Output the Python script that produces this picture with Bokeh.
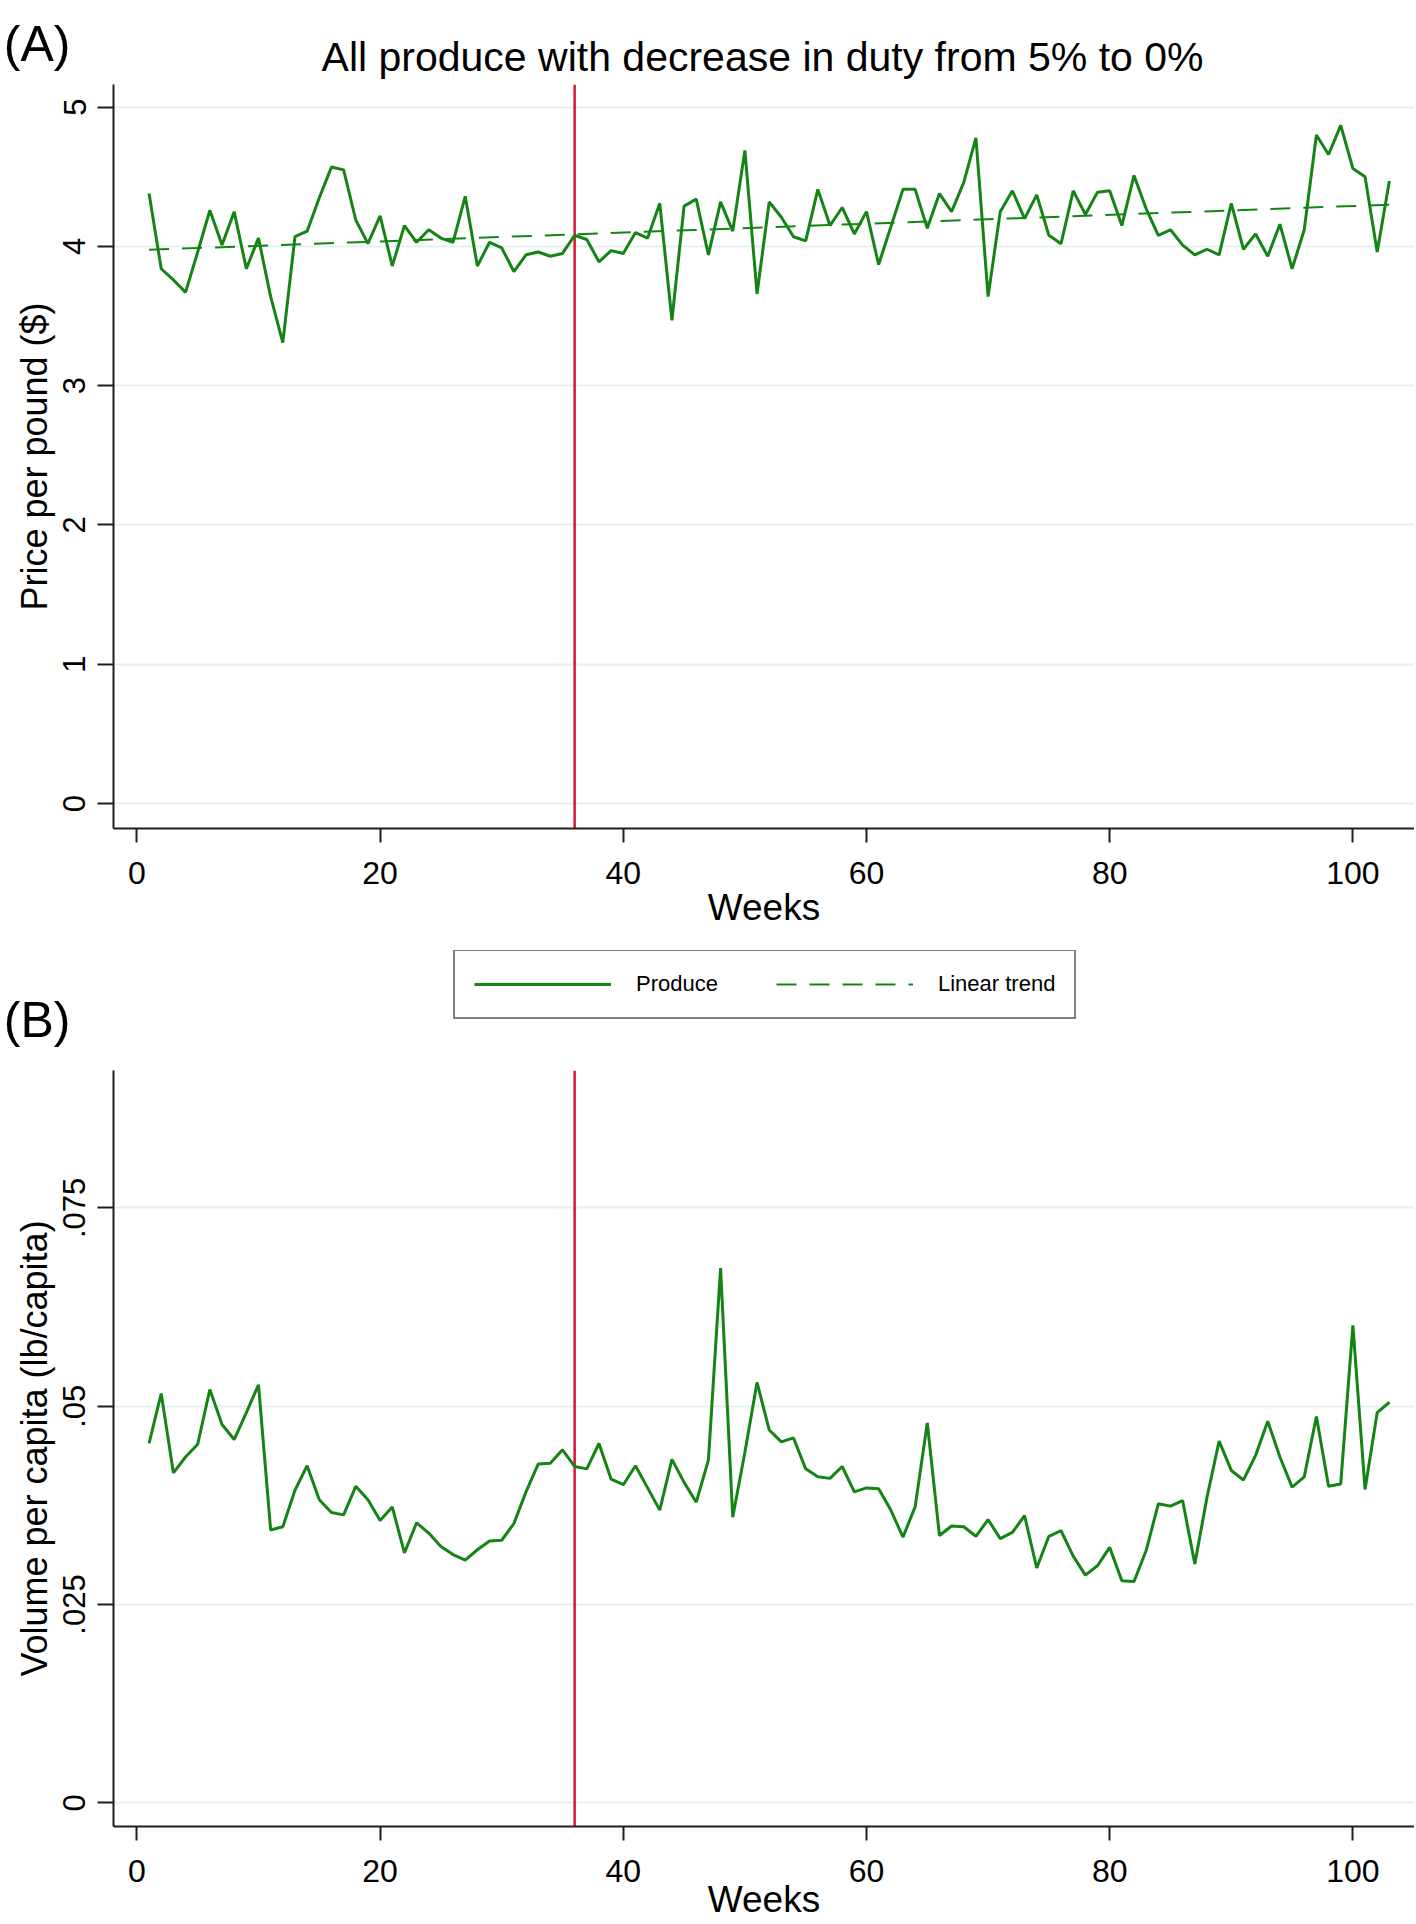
from bokeh.plotting import figure
from bokeh.models import Span, Label, Legend, LegendItem, FixedTicker, Range1d
from bokeh.layouts import column
from bokeh.embed import file_html
from bokeh.resources import INLINE

# ---------------- data ----------------
weeks = list(range(1, 104))

price = [4.38, 3.84, 3.76, 3.67, 3.96, 4.26, 4.01, 4.25, 3.84, 4.06,
         3.64, 3.31, 4.07, 4.11, 4.35, 4.57, 4.55, 4.19, 4.02, 4.22,
         3.86, 4.15, 4.03, 4.12, 4.06, 4.03, 4.36, 3.86, 4.03, 3.99,
         3.82, 3.94, 3.96, 3.93, 3.95, 4.08, 4.05, 3.89, 3.97, 3.95,
         4.10, 4.06, 4.31, 3.47, 4.29, 4.34, 3.94, 4.32, 4.11, 4.69,
         3.66, 4.32, 4.21, 4.07, 4.04, 4.41, 4.15, 4.28, 4.09, 4.25,
         3.87, 4.14, 4.41, 4.41, 4.13, 4.38, 4.25, 4.46, 4.78, 3.64,
         4.25, 4.40, 4.20, 4.37, 4.08, 4.02, 4.40, 4.23, 4.39, 4.40,
         4.15, 4.51, 4.27, 4.08, 4.12, 4.01, 3.94, 3.98, 3.94, 4.31,
         3.98, 4.09, 3.93, 4.16, 3.84, 4.12, 4.80, 4.66, 4.87, 4.56,
         4.50, 3.96, 4.47]

trend_weeks = [1, 103]
trend_price = [3.976, 4.30]

volume = [.0453, .0516, .0416, .0436, .0452, .0521, .0477, .0458, .0492, .0527,
          .0344, .0348, .0394, .0425, .0382, .0366, .0363, .0399, .0382, .0356,
          .0373, .0315, .0353, .0340, .0323, .0313, .0306, .0319, .0330, .0331,
          .0352, .0392, .0427, .0428, .0445, .0424, .0421, .0453, .0408, .0401,
          .0425, .0397, .0369, .0433, .0404, .0379, .0432, .0674, .0360, .0442,
          .0530, .0470, .0455, .0460, .0421, .0411, .0409, .0424, .0392, .0397,
          .0396, .0369, .0335, .0373, .0479, .0337, .0349, .0348, .0336, .0357,
          .0333, .0341, .0362, .0296, .0336, .0343, .0311, .0287, .0299, .0322,
          .0280, .0279, .0318, .0377, .0374, .0381, .0301, .0385, .0456, .0419,
          .0407, .0438, .0481, .0436, .0398, .0411, .0487, .0399, .0402, .0602,
          .0395, .0492, .0505]

policy_week = 36

x_ticks = [0, 20, 40, 60, 80, 100]
price_ticks = [0, 1, 2, 3, 4, 5]
volume_ticks = [0, 0.025, 0.05, 0.075]
volume_tick_labels = ["0", ".025", ".05", ".075"]

title_text = "All produce with decrease in duty from 5% to 0%"
legend_labels = ["Produce", "Linear trend"]
panel_tags = ["(A)", "(B)"]

# ---------------- style ----------------
FONT = "Liberation Sans"
GREEN = "#148414"
RED = "#d4183c"
GRID = "#e6eff1"
AXIS = "#1e1e1e"
W = 1414
LEFT = 113
X_RANGE = (-1.924, 105.067)
TREND_DASH = "20 13"


def strip(height, top, tag, tag_center):
    """A bare figure (pixel coordinates) holding free text; the panel tag
    sits in its left margin as the single label of a hidden axis."""
    s = figure(width=W, height=height, output_backend="svg", toolbar_location=None,
               x_axis_type=None,
               x_range=Range1d(LEFT, W), y_range=Range1d(top + height, top),
               min_border=0)
    s.outline_line_color = None
    s.grid.visible = False
    s.background_fill_color = "white"
    s.border_fill_color = "white"
    ax = s.yaxis[0]
    ax.ticker = FixedTicker(ticks=[tag_center])
    ax.major_label_overrides = {tag_center: tag}
    ax.axis_line_color = None
    ax.major_tick_line_color = None
    ax.minor_tick_line_color = None
    ax.major_tick_out = 0
    ax.major_tick_in = 0
    ax.major_label_standoff = 43
    ax.major_label_text_font = FONT
    ax.major_label_text_font_size = "50px"
    ax.major_label_text_color = "black"
    return s


def style(p, yticks, ylabel, overrides=None, xlabel_standoff=0):
    p.outline_line_color = None
    p.background_fill_color = "white"
    p.border_fill_color = "white"
    p.xgrid.visible = False
    p.ygrid.grid_line_color = GRID
    p.ygrid.grid_line_width = 2
    p.xaxis.ticker = FixedTicker(ticks=x_ticks)
    p.yaxis.ticker = FixedTicker(ticks=yticks)
    if overrides:
        p.yaxis.major_label_overrides = overrides
    for ax in (p.xaxis, p.yaxis):
        ax.axis_line_color = AXIS
        ax.axis_line_width = 2
        ax.major_tick_line_color = AXIS
        ax.major_tick_line_width = 2
        ax.major_tick_in = 0
        ax.minor_tick_line_color = None
        ax.major_label_text_font = FONT
        ax.major_label_text_color = "black"
        ax.axis_label_text_font = FONT
        ax.axis_label_text_font_style = "normal"
        ax.axis_label_text_color = "black"
    p.xaxis.major_label_text_font_size = "32px"
    p.xaxis.axis_label_text_font_size = "37px"
    p.xaxis.major_tick_out = 14
    p.xaxis.major_label_standoff = 19
    p.xaxis.axis_label_standoff = xlabel_standoff
    p.xaxis.axis_label = "Weeks"
    p.yaxis.major_label_text_font_size = "31px"
    p.yaxis.axis_label_text_font_size = "36px"
    p.yaxis.major_tick_out = 16
    p.yaxis.major_label_standoff = 12
    p.yaxis.axis_label_standoff = 6
    p.yaxis.major_label_orientation = "vertical"
    p.yaxis.axis_label = ylabel
    p.add_layout(Span(location=policy_week, dimension="height", line_color=RED,
                      line_width=2.5, level="underlay"))


# ---------------- header: (A) + title ----------------
head = strip(84, 0, panel_tags[0], 13)
head.add_layout(Label(x=762, y=56, text=title_text, text_font=FONT,
                      text_font_size="41px", text_color="black",
                      text_align="center", text_baseline="middle"))

# ---------------- panel A ----------------
pA = figure(width=W, height=866, output_backend="svg", toolbar_location=None,
            x_range=Range1d(*X_RANGE), y_range=Range1d(-0.1795, 5.163),
            min_border_left=LEFT, min_border_right=0, min_border_top=0,
            min_border_bottom=122)
style(pA, price_ticks, "Price per pound ($)")
pA.line(weeks, price, line_color=GREEN, line_width=3)
pA.line(trend_weeks, trend_price, line_color=GREEN, line_width=2, line_dash=TREND_DASH)

# ---------------- middle: legend + (B) ----------------
mid = strip(120, 950, panel_tags[1], 1019)
nan = [float("nan")]
key_p = mid.line(nan, nan, line_color=GREEN, line_width=3)
key_t = mid.line(nan, nan, line_color=GREEN, line_width=2, line_dash=TREND_DASH)
legend = Legend(items=[LegendItem(label=legend_labels[0], renderers=[key_p]),
                       LegendItem(label=legend_labels[1], renderers=[key_t])],
                orientation="horizontal", location=(453 - LEFT, 51),
                padding=19, spacing=58, glyph_width=137, glyph_height=28,
                label_height=28, label_standoff=25,
                label_text_font=FONT, label_text_font_size="22px",
                label_text_color="black",
                border_line_color="black", border_line_width=2,
                background_fill_color="white", background_fill_alpha=1.0)
mid.add_layout(legend)

# ---------------- panel B ----------------
pB = figure(width=W, height=853, output_backend="svg", toolbar_location=None,
            x_range=Range1d(*X_RANGE), y_range=Range1d(-0.002988, 0.092322),
            min_border_left=LEFT, min_border_right=0, min_border_top=0,
            min_border_bottom=97)
style(pB, volume_ticks, "Volume per capita (lb/capita)",
      overrides={t: s for t, s in zip(volume_ticks, volume_tick_labels)},
      xlabel_standoff=-6)
pB.line(weeks, volume, line_color=GREEN, line_width=3)

layout = column(head, pA, mid, pB, spacing=0)
open("out.html", "w").write(file_html(layout, INLINE))
